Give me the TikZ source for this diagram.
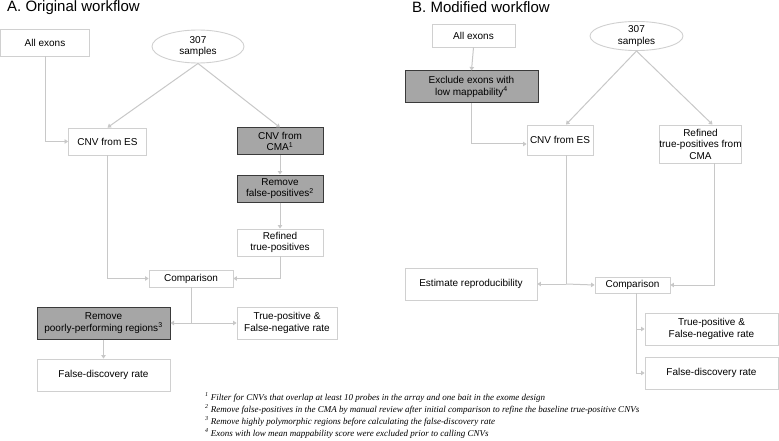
\documentclass[tikz,border=0pt]{standalone}
\usepackage{fontspec}
\setmainfont{Liberation Sans}
\newfontfamily\notefont{Liberation Serif}
\usetikzlibrary{arrows.meta,shapes.geometric,calc}
\definecolor{lineg}{HTML}{C8C8C8}
\definecolor{boxg}{HTML}{D0D0D0}
\definecolor{fillg}{HTML}{A6A6A6}
\definecolor{darkb}{HTML}{3A3A3A}
\begin{document}
\begin{tikzpicture}[x=1pt,y=-1pt,
  every node/.style={font=\fontsize{10}{11.5}\selectfont, align=center, inner sep=0pt},
  wbox/.style={draw=boxg, line width=0.9pt, fill=white},
  gbox/.style={draw=darkb, line width=1pt, fill=fillg},
  ell/.style={ellipse, draw=boxg, line width=0.9pt, fill=white},
  conn/.style={draw=lineg, line width=1pt},
  arr/.style={conn, -{Triangle[width=4.5pt,length=3.5pt]}},
  note/.style={font=\notefont\itshape\fontsize{9}{10}\selectfont, anchor=base west, align=left},
  ttl/.style={font=\fontsize{15}{18}\selectfont, anchor=base west}]
\useasboundingbox (0,0) rectangle (779,441);
\fill[white] (0,0) rectangle (779,441);

% ---------- A ----------
\node[ttl] (tA) at (7,12) {A. Original workflow};
\node[wbox, minimum width=89pt, minimum height=27pt] (allA) at (45,42.5) {All exons};
\node[ell, minimum width=92pt, minimum height=33pt] (sampA) at (198,46.5) {307\\samples};
\node[wbox, minimum width=78pt, minimum height=27pt] (esA) at (107.5,141.5) {CNV from ES};
\node[gbox, minimum width=86pt, minimum height=27pt] (cmaA) at (280,141.5) {CNV from\\CMA\textsuperscript{1}};
\node[gbox, minimum width=86pt, minimum height=27pt] (rfpA) at (280,188.5) {Remove\\false-positives\textsuperscript{2}};
\node[wbox, minimum width=86pt, minimum height=27pt] (rtpA) at (280,242.5) {Refined\\true-positives};
\node[wbox, minimum width=84pt, minimum height=17pt] (cmpA) at (191,278.5) {Comparison};
\node[gbox, minimum width=133pt, minimum height=32pt] (rprA) at (103.5,323) {Remove\\poorly-performing regions\textsuperscript{3}};
\node[wbox, minimum width=100pt, minimum height=32pt] (tpA) at (287,323) {True-positive \&\\False-negative rate};
\node[wbox, minimum width=133pt, minimum height=32pt] (fdrA) at (103.5,375) {False-discovery rate};
\coordinate (jA) at (191,323);

\draw[arr] (allA.south) |- (esA.west);
\draw[arr] (sampA.south) -- (esA.north);
\draw[arr] (sampA.south) -- (cmaA.north);
\draw[arr] (cmaA.south) -- (rfpA.north);
\draw[arr] (rfpA.south) -- (rtpA.north);
\draw[arr] (esA.south) |- (cmpA.west);
\draw[arr] (rtpA.south) |- (cmpA.east);
\draw[conn] (cmpA.south) -- (jA);
\draw[arr] (jA) -- (rprA.east);
\draw[arr] (jA) -- (tpA.west);
\draw[arr] (rprA.south) -- (fdrA.north);

% ---------- B ----------
\node[ttl] (tB) at (412,13) {B. Modified workflow};
\node[wbox, minimum width=83pt, minimum height=23pt] (allB) at (473.5,35.5) {All exons};
\node[ell, minimum width=93pt, minimum height=28pt] (sampB) at (636.5,36) {307\\samples};
\node[gbox, minimum width=133pt, minimum height=32pt] (exB) at (471.5,87) {Exclude exons with\\low mappability\textsuperscript{4}};
\node[wbox, minimum width=66pt, minimum height=30pt] (esB) at (560,140) {CNV from ES};
\node[wbox, minimum width=75pt, minimum height=38pt] (rtpB) at (700.5,144) {Refined\\true-positives from\\CMA};
\node[wbox, minimum width=132pt, minimum height=32pt] (repB) at (471,284) {Estimate reproducibility};
\node[wbox, minimum width=75pt, minimum height=16pt] (cmpB) at (632.5,285) {Comparison};
\node[wbox, minimum width=133pt, minimum height=32pt] (tpB) at (711.5,329) {True-positive \&\\False-negative rate};
\node[wbox, minimum width=133pt, minimum height=32pt] (fdrB) at (711.5,373) {False-discovery rate};
\coordinate (jB) at (566,284);

\draw[arr] (allB.south) -- (exB.north);
\draw[arr] (exB.south) |- ([yshift=-4pt]esB.west);
\draw[arr] (sampB.south) -- ([xshift=6pt]esB.north);
\draw[arr] (sampB.south) -- ([xshift=12pt]rtpB.north);
\draw[conn] ([xshift=6pt]esB.south) -- (jB);
\draw[arr] (jB) -- (repB.east);
\draw[arr] (jB) -- (cmpB.west);
\draw[arr] ([xshift=14pt]rtpB.south) |- (cmpB.east);
\draw[arr] ([xshift=4pt]cmpB.south) |- (tpB.west);
\draw[arr] ([xshift=4pt]cmpB.south) |- (fdrB.west);

% ---------- footnotes ----------
\node[note] (n1) at (205,400) {\textsuperscript{1} Filter for CNVs that overlap at least 10 probes in the array and one bait in the exome design};
\node[note] (n2) at (205,412) {\textsuperscript{2} Remove false-positives in the CMA by manual review after initial comparison to refine the baseline true-positive CNVs};
\node[note] (n3) at (205,424) {\textsuperscript{3} Remove highly polymorphic regions before calculating the false-discovery rate};
\node[note] (n4) at (205,436) {\textsuperscript{4} Exons with low mean mappability score were excluded prior to calling CNVs};
\end{tikzpicture}
\end{document}
